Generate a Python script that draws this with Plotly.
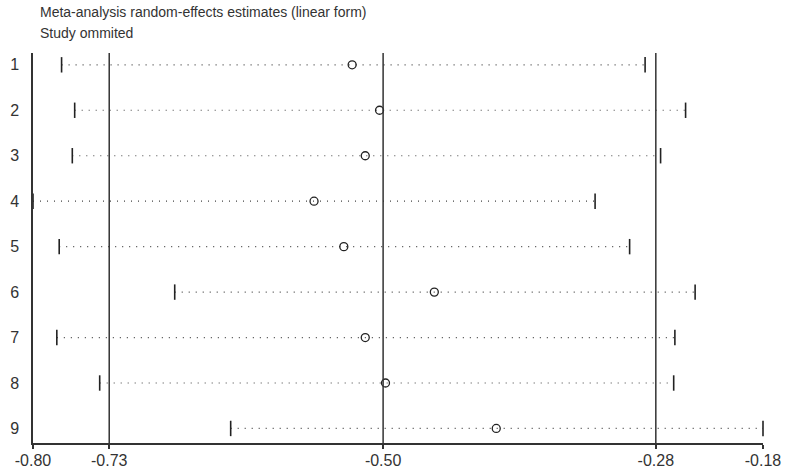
import plotly.graph_objects as go

# Data
studies = ["1", "2", "3", "4", "5", "6", "7", "8", "9"]
estimate = [-0.528, -0.505, -0.517, -0.560, -0.535, -0.459, -0.517, -0.500, -0.407]
lower_ci = [-0.772, -0.761, -0.763, -0.796, -0.774, -0.677, -0.776, -0.740, -0.630]
upper_ci = [-0.282, -0.248, -0.269, -0.324, -0.295, -0.240, -0.257, -0.258, -0.183]

# Overall estimate and its CI (reference lines), axis extremes
overall = [-0.732, -0.502, -0.273]          # lower, estimate, upper
axis_min, axis_max = -0.796, -0.183
tick_vals = [axis_min, overall[0], overall[1], overall[2], axis_max]
tick_text = ["-0.80", "-0.73", "-0.50", "-0.28", "-0.18"]

title_lines = ["Meta-analysis random-effects estimates (linear form)", "Study ommited"]

ML, MR, MT, MB = 32.5, 25.5, 52.7, 29
W, H = 789, 472
plot_w = W - ML - MR
plot_h = H - MT - MB

rows = list(range(1, len(studies) + 1))
fig = go.Figure()

# dotted lines between CI limits
for r, lo, hi in zip(rows, lower_ci, upper_ci):
    fig.add_trace(go.Scatter(x=[lo, hi], y=[r, r], mode="lines",
                             line=dict(color="#444", width=1.2, dash="1px,6px"),
                             hoverinfo="skip", showlegend=False))

# CI limit bars
fig.add_trace(go.Scatter(x=lower_ci + upper_ci, y=rows + rows, mode="markers",
                         marker=dict(symbol="line-ns", size=11,
                                     line=dict(color="#222", width=1.6)),
                         showlegend=False, cliponaxis=False))
# estimates
fig.add_trace(go.Scatter(x=estimate, y=rows, mode="markers",
                         marker=dict(symbol="circle-open", size=8, color="#222",
                                     line=dict(color="#222", width=1.3)),
                         showlegend=False, cliponaxis=False))

# reference vertical lines
for v in overall:
    fig.add_shape(type="line", x0=v, x1=v, y0=0, y1=1, xref="x", yref="paper",
                  line=dict(color="#333", width=1.5))

for i, t in enumerate(title_lines):
    fig.add_annotation(text=t, x=(38 - ML) / plot_w, y=1 + (MT - (12 + 21 * i)) / plot_h,
                       xref="paper", yref="paper",
                       showarrow=False, xanchor="left", yanchor="middle",
                       font=dict(family="Liberation Sans, Arial", size=14, color="#333"))

fig.update_layout(
    width=W, height=H,
    margin=dict(l=ML, r=MR, t=MT, b=MB, autoexpand=False),
    paper_bgcolor="white", plot_bgcolor="white",
    font=dict(family="Liberation Sans, Arial", size=13, color="#333"),
    xaxis=dict(range=[axis_min, axis_max], tickvals=tick_vals, ticktext=tick_text,
               automargin=False,
               showgrid=False, zeroline=False, showline=True, linecolor="#333",
               linewidth=1.5, ticks="outside", ticklen=4, tickcolor="#333",
               tickwidth=1.5, ticklabelstandoff=-2,
               tickfont=dict(size=16, color="#333")),
    yaxis=dict(range=[9.32, 0.74], tickvals=rows, ticktext=studies,
               automargin=False,
               showgrid=False, zeroline=False, showline=True, linecolor="#333",
               linewidth=1.5, ticks="", ticklabelstandoff=9,
               tickfont=dict(size=16, color="#333")),
)

fig.write_html("out.html")
